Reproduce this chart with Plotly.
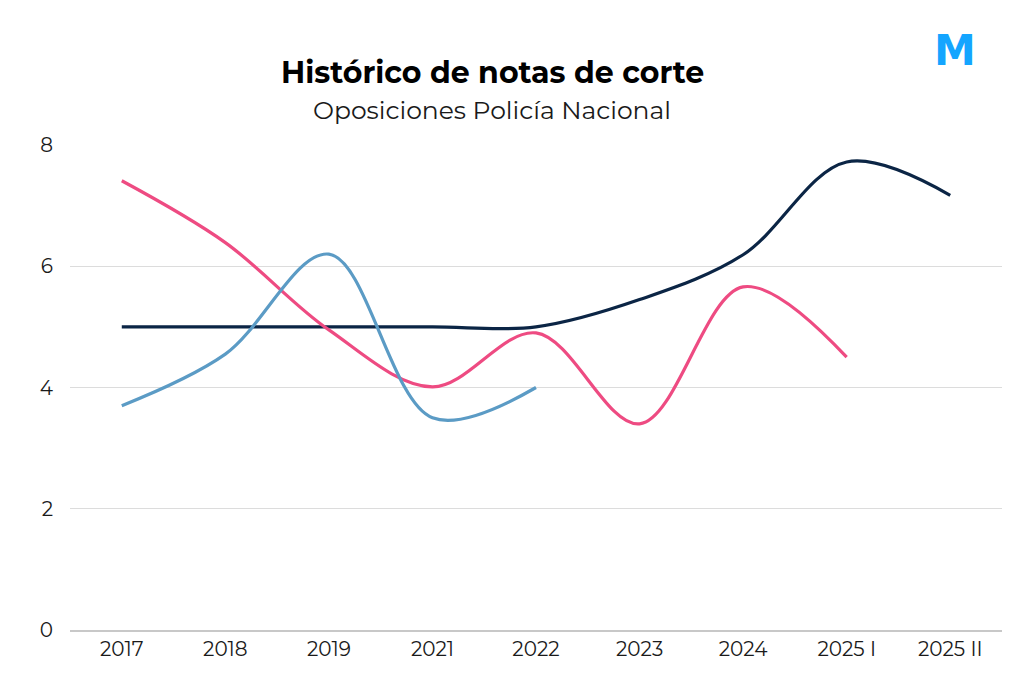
import plotly.graph_objects as go

categories = ["2017", "2018", "2019", "2021", "2022", "2023", "2024", "2025 I", "2025 II"]
navy_values = [5.0, 5.0, 5.0, 5.0, 5.0, 5.45, 6.19, 7.72, 7.17]
pink_values = [7.41, 6.39, 4.95, 4.01, 4.9, 3.4, 5.66, 4.5, None]
blue_values = [3.7, 4.55, 6.2, 3.5, 4.0, None, None, None, None]
y_ticks = [0, 2, 4, 6, 8]

FONT = "Montserrat, 'Open Sans', sans-serif"

W, H = 1024, 691
L, R, T, B = 62, 30, 137, 69

fig = go.Figure()
fig.add_trace(go.Scatter(x=categories, y=navy_values, mode="lines",
                         line=dict(color="#0B2545", width=3.2, shape="spline", smoothing=1.0),
                         connectgaps=False, showlegend=False))
fig.add_trace(go.Scatter(x=categories, y=pink_values, mode="lines",
                         line=dict(color="#EE4B82", width=3.2, shape="spline", smoothing=1.0),
                         connectgaps=False, showlegend=False))
fig.add_trace(go.Scatter(x=categories, y=blue_values, mode="lines",
                         line=dict(color="#5B9BC5", width=3.2, shape="spline", smoothing=1.0),
                         connectgaps=False, showlegend=False))

pw = W - L - R
ph = H - T - B


def px(x):
    return (x - L) / pw


def py(y):
    return (H - B - y) / ph


fig.update_layout(
    width=W, height=H,
    paper_bgcolor="white", plot_bgcolor="white",
    margin=dict(l=L, r=R, t=T, b=B),
    font=dict(family=FONT, color="#1a1a1a", size=20),
    xaxis=dict(type="category", categoryorder="array", categoryarray=categories,
               range=[-0.5, len(categories) - 0.5], showgrid=False, showline=True,
               linecolor="#c8c8c8", linewidth=2, ticks="", tickfont=dict(size=20)),
    yaxis=dict(range=[0, 8], tickvals=y_ticks, showgrid=True, gridcolor="#dcdcdc",
               gridwidth=1, zeroline=False, showline=False, ticks="",
               ticklabelstandoff=16, tickfont=dict(size=20)),
    annotations=[
        dict(text="<b>Histórico de notas de corte</b>", x=px(484), y=py(64), xref="paper", yref="paper",
             xanchor="center", yanchor="middle",
             showarrow=False, font=dict(size=30, color="#000000", family=FONT)),
        dict(text="Oposiciones Policía Nacional", x=px(484), y=py(102), xref="paper", yref="paper",
             xanchor="center", yanchor="middle",
             showarrow=False, font=dict(size=25, color="#1a1a1a", family=FONT)),
        dict(text="<b>M</b>", x=px(947), y=py(42), xref="paper", yref="paper",
             xanchor="center", yanchor="middle",
             showarrow=False, font=dict(size=42, color="#14A5FF", family="'DejaVu Sans'")),
    ],
)

fig.write_html("out.html")
